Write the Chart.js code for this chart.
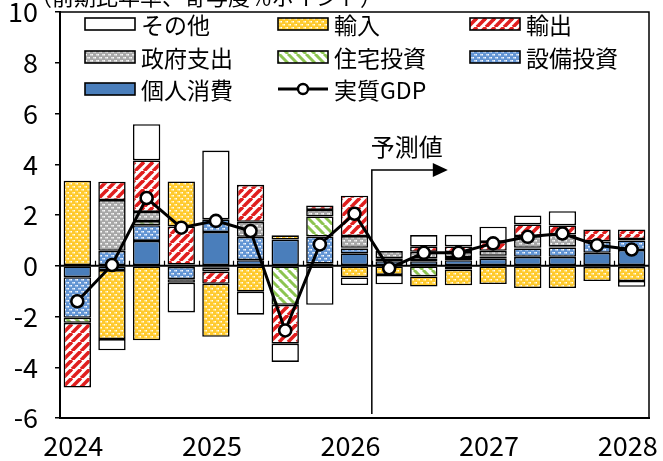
<!DOCTYPE html>
<html>
<head>
<meta charset="utf-8">
<script src="https://cdn.jsdelivr.net/npm/chart.js@4.4.1/dist/chart.umd.min.js"></script>
<style>
  html, body { margin: 0; padding: 0; background: #fff; }
  #wrap { width: 663px; height: 461px; }
</style>
</head>
<body>
<div id="wrap"><canvas id="c" width="663" height="461"></canvas></div>
<script>
// ── Data ──────────────────────────────────────────────────────────────────────
const quarters = [
  '2024Q1', '2024Q2', '2024Q3', '2024Q4',
  '2025Q1', '2025Q2', '2025Q3', '2025Q4',
  '2026Q1', '2026Q2', '2026Q3', '2026Q4',
  '2027Q1', '2027Q2', '2027Q3', '2027Q4',
  '2028Q1'
]
const consumption = [-0.45, -0.17, 0.98, -0.05, 1.33, 0.22, 1.03, 0.08, 0.49, 0.18, 0.18, 0.22, 0.28, 0.35, 0.35, 0.51, 0.62]
const capex       = [-1.6, 0.59, 0.62, -0.48, 0.5, 0.92, 0, 1.07, 0.19, 0.12, 0.1, 0.12, 0.08, 0.33, 0.37, 0.43, 0.38]
const housing     = [-0.2, 0, 0.16, 0.05, -0.08, 0, -1.54, 0.79, 0.03, 0, -0.42, -0.15, 0.03, 0.03, 0.03, -0.05, -0.05]
const government  = [0, 2.0, 0.36, -0.14, -0.15, 0.59, 0, 0.26, 0.46, 0.28, 0.27, 0.2, 0.2, 0.46, 0.48, 0.02, 0.05]
const exports     = [-2.55, 0.72, 2.03, 1.5, -0.48, 1.46, -1.53, 0.17, 1.59, 0, 0.2, 0.22, 0.35, 0.46, 0.36, 0.47, 0.38]
const imports     = [3.35, -2.72, -2.94, 1.77, -2.09, -1.02, 0.17, 0, -0.46, -0.36, -0.4, -0.62, -0.72, -0.88, -0.88, -0.55, -0.55]
const others      = [0, -0.44, 1.43, -1.17, 2.71, -0.91, -0.72, -1.54, -0.3, -0.37, 0.46, 0.46, 0.6, 0.35, 0.56, 0, -0.23]
const realGdp     = [-1.4, 0.03, 2.67, 1.5, 1.77, 1.37, -2.55, 0.84, 2.05, -0.1, 0.51, 0.51, 0.88, 1.14, 1.27, 0.81, 0.64]

const forecastStart = 9   // first forecast quarter index
const yTicks = { min: -6, max: 10, step: 2 }

// ── Fill patterns ─────────────────────────────────────────────────────────────
const canvas = document.getElementById('c')
const mainCtx = canvas.getContext('2d')

function makePattern(size, draw) {
  const tile = document.createElement('canvas')
  tile.width = tile.height = size
  draw(tile.getContext('2d'), size)
  return mainCtx.createPattern(tile, 'repeat')
}

function stripes(color, width, size, rising) {
  return makePattern(size, (g, s) => {
    g.fillStyle = '#fff'
    g.fillRect(0, 0, s, s)
    g.strokeStyle = color
    g.lineWidth = width
    for (let k = -1; k <= 1; k++) {
      g.beginPath()
      if (rising) { g.moveTo(k * s, s); g.lineTo(k * s + s, 0) }
      else { g.moveTo(k * s, 0); g.lineTo(k * s + s, s) }
      g.stroke()
    }
  })
}

function dotted(base, light, dot, size) {
  return makePattern(size, (g, s) => {
    g.fillStyle = base
    g.fillRect(0, 0, s, s)
    const h = s / 2
    g.fillStyle = light
    g.fillRect(0, 0, h / 2, h / 2)
    g.fillRect(h, h, h / 2, h / 2)
    g.fillStyle = dot
    g.fillRect(h / 2, 0, 1.5, 1.5)
    g.fillRect(h * 1.5, h, 1.5, 1.5)
  })
}

const FILLS = {
  consumption: '#4A7EBB',
  capex: dotted('#6395D4', '#C9DCF3', '#ffffff', 6),
  housing: stripes('#8CC450', 3, 9, false),
  government: dotted('#A8A8A8', '#E6E6E6', '#ffffff', 6),
  exports: stripes('#E01E1E', 3.6, 9, true),
  imports: dotted('#FFCA2E', '#FFE58A', '#ffffff', 6),
  others: '#ffffff'
}

// ── Datasets ──────────────────────────────────────────────────────────────────
function barSet(label, data, fill) {
  return {
    type: 'bar', label, data,
    backgroundColor: fill,
    borderColor: '#000',
    borderWidth: 1.6,
    borderSkipped: false,
    barPercentage: 0.79,
    categoryPercentage: 1,
    order: 1
  }
}

const datasets = [
  barSet('個人消費', consumption, FILLS.consumption),
  barSet('設備投資', capex, FILLS.capex),
  barSet('住宅投資', housing, FILLS.housing),
  barSet('政府支出', government, FILLS.government),
  barSet('輸出', exports, FILLS.exports),
  barSet('輸入', imports, FILLS.imports),
  barSet('その他', others, FILLS.others),
  {
    type: 'line', label: '実質GDP', data: realGdp,
    borderColor: '#000', borderWidth: 3,
    pointRadius: 6, pointBackgroundColor: '#fff',
    pointBorderColor: '#000', pointBorderWidth: 2.6,
    tension: 0, order: 0
  }
]

// legend grid: 3 columns, read row by row
const legendOrder = [6, 5, 4, 3, 2, 1, 0, 7]
const legendColX = [85, 278, 470]
const legendRowY = [24, 57, 89]

const FONT = '"Noto Sans CJK JP", "Noto Sans", sans-serif'

// ── Plugins ───────────────────────────────────────────────────────────────────
const framePlugin = {
  id: 'frame',
  beforeDatasetsDraw(chart) {
    const { ctx, chartArea: a, scales: { y } } = chart
    const y0 = y.getPixelForValue(0)
    ctx.save()
    ctx.strokeStyle = '#000'
    // zero line with tick marks at category boundaries
    ctx.lineWidth = 2
    ctx.beginPath()
    ctx.moveTo(a.left, y0); ctx.lineTo(a.right, y0)
    ctx.stroke()
    ctx.lineWidth = 1.2
    const step = (a.right - a.left) / quarters.length
    for (let i = 1; i < quarters.length; i++) {
      const px = Math.round(a.left + i * step) + 0.5
      ctx.beginPath()
      ctx.moveTo(px, y0); ctx.lineTo(px, y0 - 5)
      ctx.stroke()
    }
    ctx.restore()
  },
  afterDraw(chart) {
    const { ctx, chartArea: a, scales: { x } } = chart
    ctx.save()
    // plot frame (top / right)
    ctx.strokeStyle = '#000'
    ctx.lineWidth = 1.5
    ctx.beginPath()
    ctx.moveTo(a.left, a.top); ctx.lineTo(a.right, a.top); ctx.lineTo(a.right, a.bottom)
    ctx.stroke()

    // unit caption, clipped at the top edge as in the source
    ctx.fillStyle = '#000'
    ctx.font = '22px ' + FONT
    ctx.textBaseline = 'middle'
    ctx.textAlign = 'left'
    ctx.fillText('（前期比年率、寄与度％ポイント）', 30, -3)

    // forecast marker
    const fx = (x.getPixelForValue(forecastStart - 1) + x.getPixelForValue(forecastStart)) / 2
    const ay = 170
    ctx.lineWidth = 1.5
    ctx.beginPath()
    ctx.moveTo(fx, a.bottom - 4); ctx.lineTo(fx, ay); ctx.lineTo(fx + 62, ay)
    ctx.stroke()
    ctx.beginPath()
    ctx.moveTo(fx + 61, ay - 7); ctx.lineTo(fx + 76, ay); ctx.lineTo(fx + 61, ay + 7)
    ctx.closePath(); ctx.fill()
    ctx.font = '24px ' + FONT
    ctx.fillText('予測値', fx - 1, 147)

    // legend
    ctx.font = '23px ' + FONT
    legendOrder.forEach((idx, i) => {
      const ds = chart.data.datasets[idx]
      const lx = legendColX[i % 3]
      const ly = legendRowY[Math.floor(i / 3)]
      if (ds.type === 'line') {
        ctx.strokeStyle = '#000'
        ctx.lineWidth = 3
        ctx.beginPath(); ctx.moveTo(lx, ly); ctx.lineTo(lx + 50, ly); ctx.stroke()
        ctx.beginPath(); ctx.arc(lx + 25, ly, 5, 0, Math.PI * 2)
        ctx.fillStyle = '#fff'; ctx.fill()
        ctx.lineWidth = 2.4; ctx.stroke()
      } else {
        ctx.fillStyle = ds.backgroundColor
        ctx.fillRect(lx, ly - 6, 50, 12)
        ctx.strokeStyle = '#000'
        ctx.lineWidth = 1.6
        ctx.strokeRect(lx, ly - 6, 50, 12)
      }
      ctx.fillStyle = '#000'
      ctx.fillText(ds.label, lx + 56, ly + 1)
    })
    ctx.restore()
  }
}

function noOverflow(s) {
  s.paddingTop = 0; s.paddingBottom = 0
  s.paddingLeft = 0; s.paddingRight = 0
}

// ── Chart ─────────────────────────────────────────────────────────────────────
new Chart(mainCtx, {
  data: { labels: quarters, datasets },
  options: {
    responsive: false,
    animation: false,
    devicePixelRatio: 1,
    layout: { padding: { top: 12, right: 14, left: 0, bottom: 0 } },
    plugins: { legend: { display: false }, tooltip: { enabled: false } },
    scales: {
      x: {
        stacked: true,
        grid: { display: false, drawTicks: false },
        border: { display: true, color: '#000', width: 2 },
        ticks: {
          autoSkip: false, maxRotation: 0, padding: 12, labelOffset: -4,
          color: '#000', font: { family: FONT, size: 27 },
          callback: (v, i) => quarters[i].endsWith('Q1') ? quarters[i].slice(0, 4) : ''
        },
        afterFit: s => { s.height = 43; noOverflow(s) }
      },
      y: {
        stacked: true,
        min: yTicks.min, max: yTicks.max,
        grid: { drawOnChartArea: false, drawTicks: true, tickLength: 5, color: '#000', lineWidth: 1.5 },
        border: { display: true, color: '#000', width: 2 },
        ticks: { stepSize: yTicks.step, padding: 17, color: '#000', font: { family: FONT, size: 27 } },
        afterFit: s => { s.width = 60; noOverflow(s) }
      }
    }
  },
  plugins: [framePlugin]
})
</script>
</body>
</html>
